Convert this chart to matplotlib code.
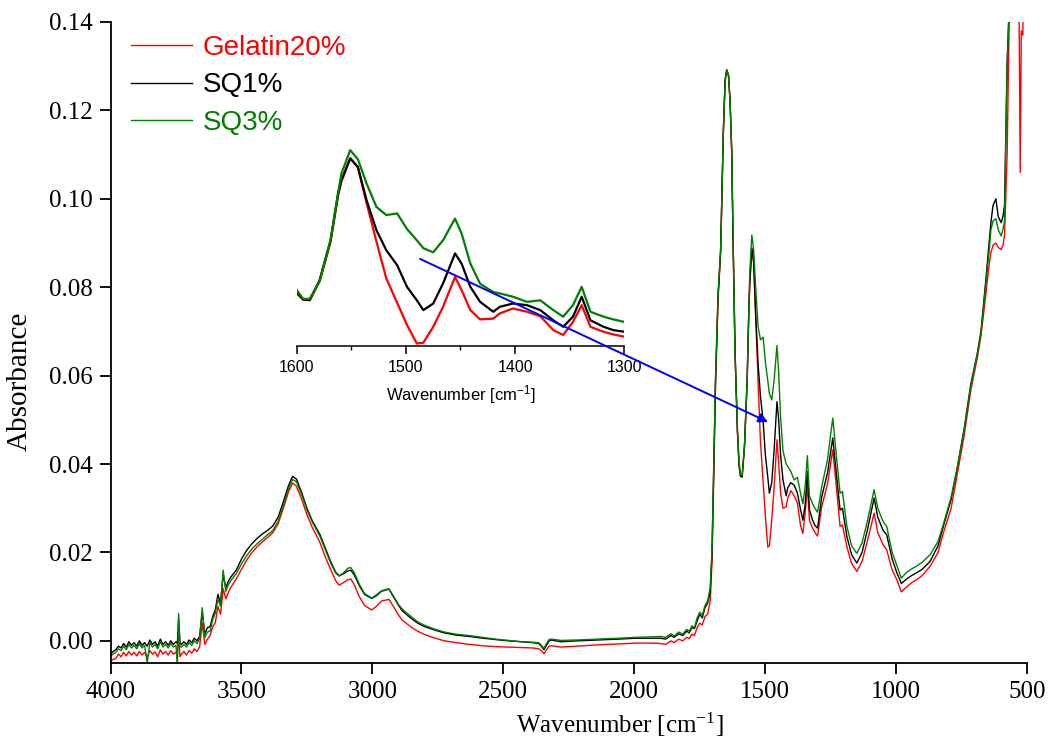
import matplotlib
matplotlib.use("Agg")
import matplotlib.pyplot as plt
from matplotlib.patches import FancyArrowPatch

# FTIR spectra
wavenumber = [
    4000, 3990, 3980, 3970, 3960, 3950, 3940, 3930, 3920, 3910,
    3900, 3890, 3880, 3870, 3860, 3850, 3840, 3830, 3820, 3810,
    3800, 3790, 3780, 3770, 3760, 3750, 3745, 3740, 3735, 3730,
    3720, 3710, 3700, 3690, 3680, 3670, 3660, 3650, 3640, 3630,
    3620, 3610, 3600, 3590, 3580, 3570, 3560, 3550, 3540, 3520,
    3500, 3480, 3460, 3440, 3420, 3400, 3380, 3360, 3340, 3320,
    3305, 3290, 3270, 3250, 3230, 3200, 3180, 3160, 3140, 3127,
    3110, 3095, 3083, 3070, 3050, 3030, 3003, 2985, 2966, 2950,
    2937, 2920, 2900, 2886, 2871, 2850, 2827, 2800, 2760, 2725,
    2680, 2630, 2579, 2530, 2480, 2430, 2389, 2365, 2355, 2345,
    2335, 2325, 2316, 2280, 2220, 2140, 2060, 1994, 1940, 1900,
    1880, 1860, 1848, 1830, 1815, 1800, 1790, 1780, 1770, 1760,
    1750, 1740, 1730, 1720, 1710, 1703, 1696, 1690, 1680, 1670,
    1660, 1653, 1647, 1640, 1634, 1628, 1622, 1615, 1606, 1600,
    1594, 1588, 1579, 1569, 1562, 1559, 1551, 1544, 1536, 1527,
    1518, 1508, 1499, 1490, 1484, 1475, 1466, 1455, 1449, 1441,
    1432, 1420, 1414, 1402, 1389, 1377, 1365, 1356, 1347, 1339,
    1331, 1319, 1310, 1300, 1284, 1262, 1242, 1230, 1214, 1205,
    1188, 1170, 1150, 1130, 1110, 1084, 1070, 1050, 1036, 1015,
    997, 980, 960, 940, 922, 900, 870, 840, 819, 790,
    767, 740, 715, 690, 676, 660, 645, 638, 630, 619,
    610, 599, 592, 586, 576, 567, 555, 540, 530, 526,
    522, 516, 510, 500,
]

gelatin20 = [
    -0.0045, -0.0042, -0.0040, -0.0030, -0.0036, -0.0026, -0.0034, -0.0024, -0.0032, -0.0026,
    -0.0034, -0.0024, -0.0032, -0.0026, -0.0036, -0.0022, -0.0030, -0.0025, -0.0036, -0.0020,
    -0.0030, -0.0024, -0.0032, -0.0022, -0.0030, -0.0026, -0.0034, 0.0020, -0.0036, -0.0030,
    -0.0024, -0.0032, -0.0022, -0.0028, -0.0018, -0.0024, -0.0014, 0.0040, -0.0008, 0.0004,
    0.0012, 0.0032, 0.0041, 0.0078, 0.0060, 0.0118, 0.0095, 0.0110, 0.0122, 0.0140,
    0.0162, 0.0183, 0.0200, 0.0213, 0.0224, 0.0234, 0.0245, 0.0265, 0.0300, 0.0338,
    0.0357, 0.0350, 0.0320, 0.0285, 0.0257, 0.0222, 0.0190, 0.0162, 0.0136, 0.0126,
    0.0132, 0.0138, 0.0140, 0.0128, 0.0100, 0.0080, 0.0070, 0.0078, 0.0090, 0.0092,
    0.0094, 0.0078, 0.0058, 0.0047, 0.0040, 0.0030, 0.0022, 0.0014, 0.0006, 0.0000,
    -0.0004, -0.0008, -0.0011, -0.0013, -0.0014, -0.0015, -0.0016, -0.0018, -0.0022, -0.0029,
    -0.0020, -0.0012, -0.0011, -0.0014, -0.0012, -0.0009, -0.0007, -0.0005, -0.0005, -0.0006,
    -0.0008, 0.0000, -0.0004, 0.0004, 0.0000, 0.0008, 0.0005, 0.0015, 0.0012, 0.0030,
    0.0040, 0.0036, 0.0055, 0.0060, 0.0090, 0.0180, 0.0380, 0.0570, 0.0770, 0.0880,
    0.1145, 0.1265, 0.1290, 0.1278, 0.1218, 0.1108, 0.0883, 0.0648, 0.0472, 0.0395,
    0.0372, 0.0370, 0.0440, 0.0583, 0.0755, 0.0805, 0.0888, 0.0855, 0.0725, 0.0585,
    0.0450, 0.0360, 0.0280, 0.0212, 0.0215, 0.0273, 0.0346, 0.0455, 0.0407, 0.0334,
    0.0300, 0.0303, 0.0322, 0.0340, 0.0328, 0.0312, 0.0261, 0.0243, 0.0291, 0.0352,
    0.0273, 0.0255, 0.0245, 0.0237, 0.0304, 0.0355, 0.0432, 0.0360, 0.0259, 0.0262,
    0.0213, 0.0175, 0.0157, 0.0180, 0.0225, 0.0289, 0.0245, 0.0218, 0.0206, 0.0160,
    0.0138, 0.0111, 0.0122, 0.0132, 0.0138, 0.0148, 0.0169, 0.0200, 0.0245, 0.0300,
    0.0375, 0.0465, 0.0566, 0.0640, 0.0690, 0.0770, 0.0850, 0.0878, 0.0895, 0.0900,
    0.0890, 0.0885, 0.0895, 0.0916, 0.1100, 0.1450, 0.2000, 0.2500, 0.1390, 0.1060,
    0.1380, 0.1370, 0.2000, 0.2500,
]

sq1 = [
    -0.0030, -0.0024, -0.0020, -0.0012, -0.0016, -0.0006, -0.0014, -0.0002, -0.0010, -0.0004,
    -0.0012, 0.0000, -0.0010, -0.0004, -0.0012, 0.0002, -0.0008, -0.0002, -0.0012, 0.0004,
    -0.0008, -0.0002, -0.0010, 0.0000, -0.0008, -0.0002, -0.0006, 0.0050, -0.0004, -0.0008,
    -0.0002, -0.0008, 0.0002, -0.0004, 0.0006, 0.0000, 0.0010, 0.0065, 0.0016, 0.0030,
    0.0032, 0.0055, 0.0070, 0.0105, 0.0085, 0.0150, 0.0120, 0.0135, 0.0145, 0.0160,
    0.0185, 0.0205, 0.0220, 0.0232, 0.0242, 0.0250, 0.0260, 0.0280, 0.0315, 0.0352,
    0.0372, 0.0366, 0.0335, 0.0300, 0.0272, 0.0240, 0.0210, 0.0180, 0.0155, 0.0147,
    0.0152, 0.0158, 0.0160, 0.0150, 0.0125, 0.0105, 0.0096, 0.0102, 0.0112, 0.0115,
    0.0117, 0.0100, 0.0080, 0.0068, 0.0060, 0.0050, 0.0040, 0.0032, 0.0024, 0.0018,
    0.0013, 0.0010, 0.0006, 0.0003, 0.0000, -0.0002, -0.0004, -0.0006, -0.0012, -0.0020,
    -0.0010, 0.0000, 0.0002, -0.0002, 0.0000, 0.0002, 0.0004, 0.0006, 0.0006, 0.0006,
    0.0004, 0.0012, 0.0008, 0.0016, 0.0012, 0.0022, 0.0018, 0.0030, 0.0028, 0.0045,
    0.0060, 0.0052, 0.0075, 0.0085, 0.0110, 0.0200, 0.0400, 0.0580, 0.0780, 0.0885,
    0.1149, 0.1270, 0.1292, 0.1280, 0.1220, 0.1110, 0.0885, 0.0650, 0.0475, 0.0401,
    0.0372, 0.0372, 0.0443, 0.0589, 0.0760, 0.0808, 0.0888, 0.0857, 0.0735, 0.0626,
    0.0553, 0.0498, 0.0419, 0.0370, 0.0334, 0.0358, 0.0431, 0.0541, 0.0504, 0.0419,
    0.0364, 0.0328, 0.0346, 0.0358, 0.0352, 0.0334, 0.0297, 0.0273, 0.0310, 0.0383,
    0.0297, 0.0273, 0.0261, 0.0255, 0.0326, 0.0380, 0.0459, 0.0390, 0.0296, 0.0300,
    0.0236, 0.0195, 0.0176, 0.0200, 0.0250, 0.0323, 0.0280, 0.0250, 0.0240, 0.0185,
    0.0154, 0.0130, 0.0140, 0.0148, 0.0154, 0.0162, 0.0180, 0.0215, 0.0260, 0.0320,
    0.0390, 0.0480, 0.0580, 0.0650, 0.0700, 0.0800, 0.0900, 0.0946, 0.0985, 0.1000,
    0.0960, 0.0946, 0.0960, 0.0985, 0.1310, 0.1450, 0.2000, 0.2500, 0.2500, 0.2500,
    0.2500, 0.2500, 0.2500, 0.2500,
]

sq3 = [
    -0.0034, -0.0030, -0.0026, -0.0018, -0.0022, -0.0012, -0.0020, -0.0008, -0.0016, -0.0010,
    -0.0018, -0.0006, -0.0016, -0.0010, -0.0050, -0.0004, -0.0014, -0.0008, -0.0018, -0.0002,
    -0.0014, -0.0008, -0.0016, -0.0006, -0.0014, -0.0010, -0.0060, 0.0062, -0.0012, -0.0014,
    -0.0008, -0.0014, -0.0004, -0.0010, 0.0000, -0.0006, 0.0004, 0.0075, 0.0008, 0.0020,
    0.0022, 0.0048, 0.0063, 0.0095, 0.0078, 0.0160, 0.0112, 0.0127, 0.0137, 0.0152,
    0.0174, 0.0193, 0.0208, 0.0220, 0.0230, 0.0240, 0.0250, 0.0270, 0.0306, 0.0344,
    0.0365, 0.0360, 0.0330, 0.0296, 0.0269, 0.0236, 0.0206, 0.0177, 0.0153, 0.0147,
    0.0154, 0.0164, 0.0166, 0.0155, 0.0128, 0.0107, 0.0097, 0.0104, 0.0113, 0.0116,
    0.0118, 0.0102, 0.0082, 0.0072, 0.0064, 0.0054, 0.0043, 0.0035, 0.0026, 0.0020,
    0.0015, 0.0012, 0.0008, 0.0004, 0.0001, -0.0002, -0.0003, -0.0004, -0.0010, -0.0017,
    -0.0006, 0.0003, 0.0004, 0.0001, 0.0002, 0.0004, 0.0006, 0.0008, 0.0009, 0.0010,
    0.0008, 0.0016, 0.0011, 0.0020, 0.0015, 0.0026, 0.0022, 0.0034, 0.0030, 0.0052,
    0.0065, 0.0058, 0.0080, 0.0090, 0.0120, 0.0210, 0.0410, 0.0590, 0.0785, 0.0888,
    0.1150, 0.1268, 0.1290, 0.1279, 0.1220, 0.1112, 0.0888, 0.0652, 0.0477, 0.0407,
    0.0375, 0.0375, 0.0440, 0.0589, 0.0765, 0.0833, 0.0918, 0.0885, 0.0796, 0.0711,
    0.0681, 0.0687, 0.0630, 0.0589, 0.0560, 0.0545, 0.0589, 0.0668, 0.0614, 0.0504,
    0.0430, 0.0400, 0.0395, 0.0383, 0.0364, 0.0370, 0.0334, 0.0310, 0.0352, 0.0419,
    0.0328, 0.0310, 0.0300, 0.0291, 0.0349, 0.0410, 0.0504, 0.0430, 0.0334, 0.0338,
    0.0259, 0.0215, 0.0198, 0.0222, 0.0270, 0.0342, 0.0300, 0.0270, 0.0259, 0.0200,
    0.0170, 0.0142, 0.0155, 0.0163, 0.0169, 0.0178, 0.0195, 0.0225, 0.0265, 0.0325,
    0.0390, 0.0478, 0.0575, 0.0648, 0.0695, 0.0790, 0.0880, 0.0930, 0.0950, 0.0955,
    0.0930, 0.0916, 0.0930, 0.0950, 0.1300, 0.1450, 0.2000, 0.2500, 0.2500, 0.2500,
    0.2500, 0.2500, 0.2500, 0.2500,
]

labels = ["Gelatin20%", "SQ1%", "SQ3%"]
colors = ["#ff0000", "#000000", "#008000"]
x_ticks = [4000, 3500, 3000, 2500, 2000, 1500, 1000, 500]
y_ticks = [0.00, 0.02, 0.04, 0.06, 0.08, 0.10, 0.12, 0.14]
inset_ticks = [1600, 1500, 1400, 1300]

plt.rcParams["font.family"] = ["Liberation Serif", "DejaVu Serif"]
plt.rcParams["mathtext.default"] = "regular"

fig = plt.figure(figsize=(10.51, 7.42), dpi=100)
ax = fig.add_axes([0.1052, 0.1065, 0.8720, 0.8639])

for lab, ys, c in zip(labels, [gelatin20, sq1, sq3], colors):
    ax.plot(wavenumber, ys, color=c, lw=1.0, label=lab)

ax.set_xlim(4000, 500)
ax.set_ylim(-0.005, 0.14)
ax.set_xticks(x_ticks)
ax.set_yticks(y_ticks)
ax.set_yticklabels([f"{v:.2f}" for v in y_ticks])
for s in ("top", "right"):
    ax.spines[s].set_visible(False)
for s in ("left", "bottom"):
    ax.spines[s].set_linewidth(1.3)
ax.tick_params(direction="out", length=8, width=1.3, labelsize=18, pad=5)
ax.set_xlabel("Wavenumber [cm$^{-1}$]", fontsize=18, labelpad=2)
ax.xaxis.set_label_coords(0.556, -0.075)
ax.set_ylabel("Absorbance", fontsize=21, labelpad=8)
ax.yaxis.set_label_coords(-0.085, 0.44)

leg = ax.legend(loc="upper left", bbox_to_anchor=(0.022, 0.98), frameon=False,
                prop={"family": "Liberation Sans", "size": 20}, handlelength=2.2,
                handletextpad=0.4, labelspacing=0.42, borderpad=0, borderaxespad=0,
                labelcolor="linecolor")

# inset zoom on 1600-1300
ins = fig.add_axes([0.2823, 0.5337, 0.3117, 0.2776])
ins.patch.set_alpha(0)
for ys, c in zip([gelatin20, sq1, sq3], colors):
    ins.plot(wavenumber, ys, color=c, lw=1.6)
ins.set_xlim(1600, 1300)
ins.set_ylim(0.0203, 0.0955)
ins.set_xticks(inset_ticks)
ins.set_xticks([1550, 1450, 1350], minor=True)
ins.set_yticks([])
for s in ("top", "right", "left"):
    ins.spines[s].set_visible(False)
ins.spines["bottom"].set_linewidth(1.1)
ins.tick_params(axis="x", which="major", direction="out", length=6, width=1.1, pad=4)
ins.tick_params(axis="x", which="minor", direction="out", length=3, width=1.0)
for t in ins.get_xticklabels():
    t.set_family("Liberation Sans")
    t.set_fontsize(11.5)
ins.set_xlabel("Wavenumber [cm$^{-1}$]", family="Liberation Sans", fontsize=12, labelpad=6)

arrow = FancyArrowPatch((2818, 0.0864), (1489, 0.0495), transform=ax.transData,
                        arrowstyle="-|>", mutation_scale=14, color="#0000ff", lw=1.4,
                        shrinkA=0, shrinkB=0, zorder=5)
fig.add_artist(arrow)

fig.savefig("out.png", dpi=100)
